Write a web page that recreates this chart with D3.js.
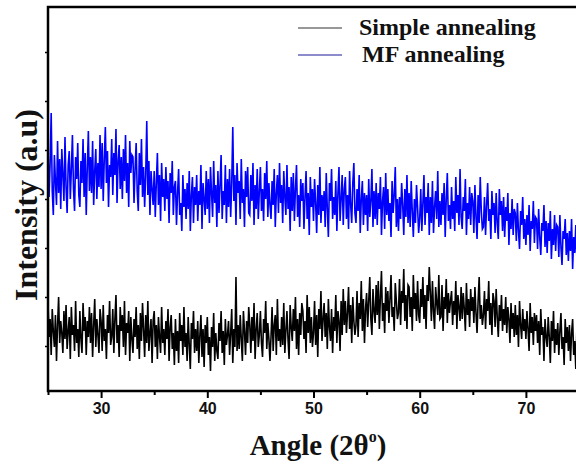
<!DOCTYPE html>
<html>
<head>
<meta charset="utf-8">
<script src="https://cdn.jsdelivr.net/npm/d3@7"></script>
<style>
  body { margin: 0; background: #fff; }
  svg { display: block; }
</style>
</head>
<body>
<svg id="chart" width="576" height="465"></svg>
<script>
// XRD scan, 25 to 74.9 deg, 0.1 deg step (a.u.)
const angleStart = 25;
const angleStep = 0.1;

const simpleAnnealing = [
  44,27,36,18,41,30,22,38,15,33, 47,24,35,29,19,40,26,43,21,30,
  37,16,42,28,33,20,45,24,31,17, 40,26,19,44,30,37,18,35,27,42,
  24,39,17,33,46,22,36,28,19,41, 35,20,43,25,31,16,38,29,45,23,
  27,41,19,36,48,24,33,17,42,30, 38,22,45,18,34,29,40,15,37,26,
  19,36,27,42,21,33,16,39,25,44, 31,17,38,24,45,20,29,36,14,35,
  40,22,33,16,37,27,19,42,24,31, 18,35,26,41,15,32,38,21,29,13,
  36,20,30,14,39,25,33,18,42,22, 29,15,37,23,11,34,26,40,19,31,
  20,35,14,28,38,17,31,12,33,24, 37,18,27,10,32,22,39,15,29,20,
  16,34,25,40,19,30,13,36,23,28, 35,18,29,41,14,31,22,57,20,33,
  21,38,26,15,40,30,18,35,24,42, 33,19,37,25,44,16,31,39,22,28,
  40,24,17,36,29,45,21,34,26,15, 27,42,20,33,38,18,46,25,31,22,
  37,23,44,19,30,40,26,16,43,32, 25,41,30,47,21,36,18,39,28,44,
  40,26,35,19,48,29,42,24,37,22, 29,45,23,38,17,41,31,50,25,36,
  44,27,39,21,46,32,25,41,19,37, 30,48,24,40,35,20,45,28,51,33,
  45,29,39,52,31,43,24,47,35,28, 33,50,27,44,36,55,30,46,24,41,
  49,32,45,57,36,28,51,40,34,53, 38,55,31,47,60,35,44,29,52,40,
  50,34,46,58,37,42,30,54,45,36, 39,56,33,50,44,61,35,48,31,53,
  52,37,47,30,58,41,49,35,55,38, 34,51,42,57,36,48,31,53,45,62,
  49,35,55,40,31,52,44,38,58,36, 37,53,30,47,41,56,34,49,39,45,
  50,33,45,38,55,31,48,42,35,52, 36,49,41,30,54,38,46,32,51,40,
  47,34,52,39,29,45,57,36,43,33, 38,50,31,46,40,55,33,44,28,49,
  45,32,51,37,27,43,35,48,30,41, 33,47,29,42,36,24,44,31,39,27,
  43,28,38,22,45,33,26,41,30,36, 26,40,31,20,44,29,37,23,39,30,
  38,24,35,18,41,28,32,15,36,27, 22,37,27,14,35,25,40,19,31,23,
  34,18,30,39,21,27,13,36,24,32, 20,33,15,29,36,18,25,11,31,22
];

const mfAnnealing = [
  122,97,114,139,100,88,118,105,93,125, 99,116,91,121,108,95,127,102,89,113,
  120,96,111,128,101,90,117,106,124,98, 92,115,104,126,97,119,88,112,130,100,
  117,99,125,93,110,121,96,114,102,128, 101,124,95,116,132,104,120,92,113,107,
  126,98,119,108,131,94,115,123,101,117, 96,121,105,128,99,114,92,125,109,118,
  117,94,111,124,100,90,119,103,126,97, 112,92,108,135,98,115,88,110,101,93,
  110,87,104,119,93,108,85,114,97,106, 90,112,96,105,84,109,99,115,88,102,
  105,83,99,111,88,94,80,108,92,101, 86,104,91,110,80,98,107,84,102,93,
  108,85,100,93,113,81,104,96,88,110, 91,106,84,112,99,87,115,94,103,82,
  110,89,103,118,86,100,93,113,84,106, 92,111,87,104,132,95,108,83,114,99,
  105,86,116,94,101,82,110,97,112,89, 88,108,95,114,83,103,91,111,86,100,
  112,90,101,85,109,96,115,87,104,93, 86,105,93,111,82,99,108,89,114,94,
  103,84,110,97,88,113,91,102,80,107, 90,109,85,101,113,87,98,82,106,95,
  104,81,97,110,86,99,78,107,92,101, 85,106,94,79,103,88,112,84,98,90,
  100,82,109,91,77,104,95,111,86,97, 88,105,80,99,112,85,96,108,83,101,
  107,86,98,81,110,93,84,104,114,89, 84,101,90,108,79,96,105,83,99,88,
  98,80,106,87,95,111,82,100,86,104, 83,99,91,107,78,95,102,81,109,88,
  101,85,94,77,105,89,98,112,82,96, 80,97,86,104,93,78,101,87,108,84,
  99,82,105,90,77,96,84,103,92,79, 86,101,80,94,108,83,97,89,104,78,
  97,84,105,79,92,100,86,110,82,95, 83,99,88,104,77,96,109,85,93,81,
  102,86,95,80,107,89,98,83,111,87, 81,97,90,106,78,94,86,102,83,99,
  95,79,103,87,76,98,84,107,90,81, 82,97,78,93,104,85,91,76,100,88,
  94,79,99,84,76,101,88,95,80,97, 77,92,85,99,73,89,81,96,78,91,
  89,75,94,80,71,90,83,97,76,86, 73,88,78,93,70,85,81,95,74,87,
  86,71,91,77,68,84,80,93,72,85, 69,84,75,90,66,81,73,88,70,83,
  82,67,88,72,63,80,76,86,68,79, 65,80,70,86,61,77,69,83,66,75
];

const seriesNames = ["Simple annealing", "MF annealing"];
const seriesColors = ["#000000", "#0000ff"];
const legendColors = ["#333333", "#1a1a9a"];
const xMajorTicks = [30, 40, 50, 60, 70];
const xMinorTicks = [25, 35, 45, 55, 65, 75];
const yTicks = [22.5, 47, 71.5, 96, 120.5, 145, 169.5];

const svg = d3.select("#chart");

const plotLeft = 48, plotTop = 7, plotBottom = 391, plotRight = 579;

const x = d3.scaleLinear().domain([25, 75]).range([plotLeft, plotRight]);
const y = d3.scaleLinear().domain([0, 192]).range([plotBottom, plotTop]);

svg.append("defs").append("clipPath").attr("id", "plotClip")
  .append("rect")
  .attr("x", plotLeft).attr("y", plotTop)
  .attr("width", plotRight - plotLeft).attr("height", plotBottom - plotTop);

const line = d3.line()
  .x((d, i) => x(angleStart + i * angleStep))
  .y(d => y(d));

const plot = svg.append("g").attr("clip-path", "url(#plotClip)");

[simpleAnnealing, mfAnnealing].forEach((values, k) => {
  plot.append("path")
    .datum(values)
    .attr("fill", "none")
    .attr("stroke", seriesColors[k])
    .attr("stroke-width", 1.6)
    .attr("d", line);
});

// bottom axis
const xAxis = svg.append("g")
  .attr("transform", `translate(0,${plotBottom})`)
  .call(d3.axisBottom(x).tickValues(xMajorTicks).tickSize(7).tickPadding(5).tickFormat(d3.format("d")));
xAxis.select(".domain").remove();
xAxis.selectAll(".tick line").attr("stroke-width", 2);
xAxis.selectAll(".tick text")
  .attr("font-family", "'Liberation Sans', Arial, sans-serif")
  .attr("font-weight", "bold")
  .attr("font-size", 16)
  .attr("fill", "#111");

const xMinor = svg.append("g")
  .attr("transform", `translate(0,${plotBottom})`)
  .call(d3.axisBottom(x).tickValues(xMinorTicks).tickSize(4).tickFormat(""));
xMinor.select(".domain").remove();
xMinor.selectAll(".tick line").attr("stroke-width", 2);

// left axis, unlabeled ticks
const yAxis = svg.append("g")
  .attr("transform", `translate(${plotLeft},0)`)
  .call(d3.axisLeft(y).tickValues(yTicks).tickSize(3).tickFormat(""));
yAxis.select(".domain").remove();
yAxis.selectAll(".tick line").attr("stroke-width", 1.5);

// frame
svg.append("path")
  .attr("d", `M${plotRight},${plotTop}H${plotLeft}V${plotBottom}H${plotRight}`)
  .attr("fill", "none")
  .attr("stroke", "#000")
  .attr("stroke-width", 2.5);

// axis titles
const xTitle = svg.append("text")
  .attr("x", 318).attr("y", 455)
  .attr("text-anchor", "middle")
  .attr("font-family", "'Liberation Serif', 'Times New Roman', serif")
  .attr("font-weight", "bold")
  .attr("font-size", 29)
  .attr("fill", "#111");
xTitle.append("tspan").text("Angle (2θ");
xTitle.append("tspan").attr("dy", -13).attr("font-size", 16).text("o");
xTitle.append("tspan").attr("dy", 13).text(")");

svg.append("text")
  .attr("transform", "translate(37,205) rotate(-90)")
  .attr("text-anchor", "middle")
  .attr("font-family", "'Liberation Serif', 'Times New Roman', serif")
  .attr("font-weight", "bold")
  .attr("font-size", 32)
  .attr("fill", "#111")
  .text("Intensity (a.u)");

// legend
const legend = svg.append("g");
seriesNames.forEach((name, k) => {
  const ly = 28 + k * 27;
  legend.append("line")
    .attr("x1", 298).attr("x2", 342)
    .attr("y1", ly).attr("y2", ly)
    .attr("stroke", legendColors[k])
    .attr("stroke-width", 1.2);
  legend.append("text")
    .attr("x", k === 0 ? 359 : 362)
    .attr("y", ly + 7)
    .attr("font-family", "'Liberation Serif', 'Times New Roman', serif")
    .attr("font-weight", "bold")
    .attr("font-size", 24)
    .attr("fill", "#111")
    .text(name);
});
</script>
</body>
</html>
